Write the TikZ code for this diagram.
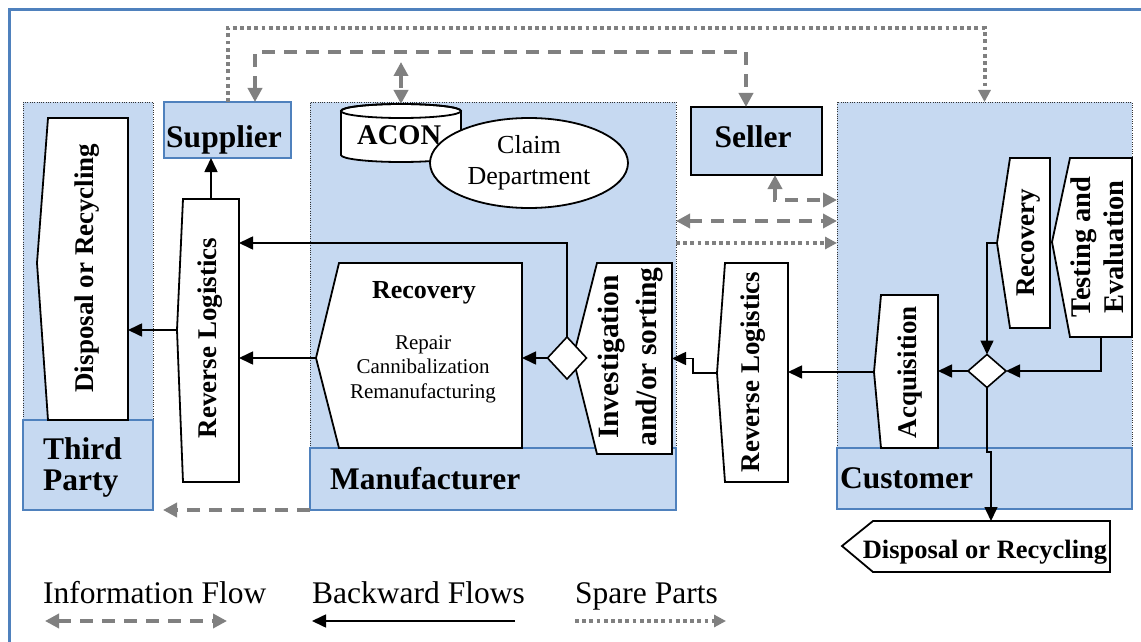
\documentclass[tikz,border=0pt]{standalone}
\usepackage{fontspec}
\setmainfont{Liberation Serif}
\usetikzlibrary{arrows.meta,shapes.geometric}

\definecolor{lanefill}{RGB}{198,217,241}
\definecolor{laneedge}{RGB}{79,129,189}
\definecolor{flowgray}{RGB}{128,128,128}

\newcommand\fsz[2]{\fontsize{#1}{#2}\selectfont}

% process box with a pointed left side: name, left, top, right, bottom, tip x, tip y
\newcommand\pentbox[7]{%
  \draw[shapebox] (#2,#3) -- (#4,#3) -- (#4,#5) -- (#2,#5) -- (#6,#7) -- cycle;
  \node[anchorbox, minimum width={(#4-#2)*1pt}, minimum height={(#5-#3)*1pt}] (#1) at ({(#2+#4)/2},{(#3+#5)/2}) {};
  \coordinate (#1-tip) at (#6,#7);
}

\begin{document}
\begin{tikzpicture}[x=1pt, y=-1pt,
  lanebody/.style={fill=lanefill, draw=black!80, line width=0.9pt, dash pattern=on 1pt off 1.3pt, inner sep=0, outer sep=0, anchor=north west},
  tagbox/.style={fill=lanefill, draw=laneedge, line width=1.8pt, inner sep=0, outer sep=0, anchor=north west},
  anchorbox/.style={inner sep=0, outer sep=0},
  shapebox/.style={draw=black, line width=1.8pt, fill=white},
  gate/.style={diamond, draw=black, line width=1.6pt, fill=white, inner sep=0, outer sep=0},
  btip/.tip={Triangle[length=14pt,width=13pt]},
  gtip/.tip={Triangle[length=14pt,width=14pt]},
  stip/.tip={Triangle[length=12pt,width=12pt]},
  flow/.style={draw=black, line width=1.6pt, -{btip}},
  info/.style={draw=flowgray, line width=4.5pt, dash pattern=on 13pt off 9pt},
  spare/.style={draw=flowgray, line width=4pt, dash pattern=on 3.8pt off 3.4pt},
  title/.style={inner sep=0, font=\fsz{31.5}{37}\bfseries},
  vtext/.style={inner sep=0, rotate=90, align=center, font=\fsz{27}{33}\bfseries},
  legend/.style={inner sep=0, anchor=base west, font=\fsz{31.5}{36}},
]
\useasboundingbox (0,0) rectangle (1141,642);
\fill[white] (0,0) rectangle (1141,642);

% swim lanes
\node[lanebody, minimum width=130pt, minimum height=318pt] (tplane) at (23,102) {};
\node[lanebody, minimum width=366pt, minimum height=346pt] (mflane) at (310,102) {};
\node[lanebody, minimum width=295pt, minimum height=346pt] (custlane) at (837,102) {};

% actor boxes
\node[tagbox, minimum width=130pt, minimum height=90pt] (thirdparty) at (23,420) {};
\node[tagbox, minimum width=366pt, minimum height=62pt] (mftag) at (310,448) {};
\node[tagbox, minimum width=295pt, minimum height=61pt] (custtag) at (837,448) {};
\node[tagbox, minimum width=127pt, minimum height=56pt] (supplier) at (164,102) {};
\node[tagbox, draw=black, minimum width=131pt, minimum height=68pt] (seller) at (691,107) {};

\node[title, anchor=base] (suppliertxt) at (224,147) {Supplier};
\node[title, anchor=base] (sellertxt) at (753,147) {Seller};
\node[title, anchor=base west] (tp1) at (43,459) {Third};
\node[title, anchor=base west] (tp2) at (43,490) {Party};
\node[title, anchor=base west] (mftxt) at (330,489) {Manufacturer};
\node[title, anchor=base west] (custtxt) at (840,488) {Customer};

% outer frame
\draw[laneedge, line width=3pt] (9,700) -- (9,10) -- (1200,10);

% information and spare-part flows
\draw[spare, -{stip}] (supplier.north) -- ++(0,-74) -| (custlane.north);
\draw[info, {gtip}-{gtip}] (supplier.north -| 255,0) -- ++(0,-50) -| (seller.north -| 746,0);
\node[anchorbox, minimum width=120pt, minimum height=58pt] (acon) at (401,133) {};
\coordinate (acontap) at (401,62);
\draw[info, {gtip}-{gtip}] (acontap) -- (acon.north);
\draw[info, {gtip}-{gtip}] (seller.south -| 775,0) -- ++(0,25) -- (custlane.west |- 0,200);
\draw[info, {gtip}-{gtip}] (mflane.east |- 0,221) -- (custlane.west |- 0,221);
\draw[spare, -{stip}] (mflane.east |- 0,243) -- (custlane.west |- 0,243);
\draw[info, -{gtip}] (mftag.south west) -- ([xshift=10pt]thirdparty.south east);

% ACON database and claim department
\filldraw[shapebox] (341,111) -- (341,155) arc[start angle=180, end angle=0, x radius=60, y radius=7]
  -- (461,111) arc[start angle=0, end angle=-180, x radius=60, y radius=7] -- cycle;
\draw[line width=1.8pt] (401,111) ellipse [x radius=60, y radius=7];
\node[inner sep=0, anchor=base west, font=\fsz{28.5}{33}\bfseries] (acontxt) at (357,144) {ACON};
\node[ellipse, draw, line width=1.8pt, fill=white, minimum width=198pt, minimum height=90pt,
  inner sep=0, align=center, font=\fsz{26}{31}] (claim) at (529,163) {Claim\\Department};

% process boxes
\pentbox{disl}{48}{118}{128}{420}{37}{263}
\pentbox{rl1}{183}{199}{239}{482}{177}{330}
\pentbox{recm}{339}{263}{522}{448}{316}{358}
\pentbox{inv}{597}{263}{672}{454}{573}{358}
\pentbox{rl2}{725}{263}{788}{482}{717}{373}
\pentbox{acq}{881}{295}{938}{448}{874}{372}
\pentbox{recc}{1010}{158}{1050}{328}{997}{243}
\pentbox{test}{1070}{158}{1132}{337}{1052}{242}
\pentbox{disr}{873}{521}{1110}{572}{842}{546}

\node[vtext] (disltxt) at (87,268) {Disposal or Recycling};
\node[vtext] (rl1txt) at (210,338) {Reverse Logistics};
\node[vtext, font=\fsz{29.5}{38}\bfseries] (invtxt) at (631,357) {Investigation\\and/or sorting};
\node[vtext] (rl2txt) at (753,372) {Reverse Logistics};
\node[vtext] (acqtxt) at (910,372) {Acquisition};
\node[vtext] (recctxt) at (1029,243) {Recovery};
\node[vtext, font=\fsz{28.5}{33}\bfseries] (testtxt) at (1097,247) {Testing and\\Evaluation};
\node[inner sep=0, anchor=base, font=\fsz{26.5}{30}\bfseries] (disrtxt) at (985,558) {Disposal or Recycling};
\node[inner sep=0, anchor=base, font=\fsz{26}{30}\bfseries] (recmtitle) at (424,298) {Recovery};
\node[inner sep=0, anchor=north, align=center, font=\fsz{21}{24.5}] (recmlist) at (423,335)
  {Repair\\Cannibalization\\Remanufacturing};

% decision points
\node[gate, minimum width=39pt, minimum height=42pt] (d1) at (567,358) {};
\node[gate, minimum width=38pt, minimum height=33pt] (d2) at (987,371) {};

% backward flows
\draw[flow] (rl1-tip) -- (disl.east |- rl1-tip);
\draw[flow] (rl1.north) -- (rl1.north |- supplier.south);
\draw[flow] (recm-tip) -- (rl1.east |- recm-tip);
\draw[flow] (d1.north) -- (d1.north |- 0,243) -- (rl1.east |- 0,243);
\draw[flow] (d1.west) -- (recm.east |- d1.west);
\draw[flow] (rl2-tip) -- ++(-24,0) |- (inv.east);
\draw[flow] (acq-tip) -- (rl2.east |- acq-tip);
\draw[flow] (d2.west) -- (acq.east |- d2.west);
\draw[flow] (test.south) |- (d2.east);
\draw[flow] (recc-tip) -| (d2.north);
\coordinate (jog) at (991,452);
\draw[flow] (d2.south) -- (d2.south |- jog) -- (jog) -- (jog |- disr.north);

% legend
\node[legend] (lgi) at (43,603) {Information Flow};
\node[legend] (lgb) at (312,603) {Backward Flows};
\node[legend] (lgs) at (575,603) {Spare Parts};
\coordinate (lgiL) at (45,621);  \coordinate (lgiR) at (227,621);
\coordinate (lgbL) at (312,621); \coordinate (lgbR) at (515,621);
\coordinate (lgsL) at (575,621); \coordinate (lgsR) at (726,621);
\draw[info, {gtip}-{gtip}] (lgiL) -- (lgiR);
\draw[flow] (lgbR) -- (lgbL);
\draw[spare, -{stip}] (lgsL) -- (lgsR);
\end{tikzpicture}
\end{document}
